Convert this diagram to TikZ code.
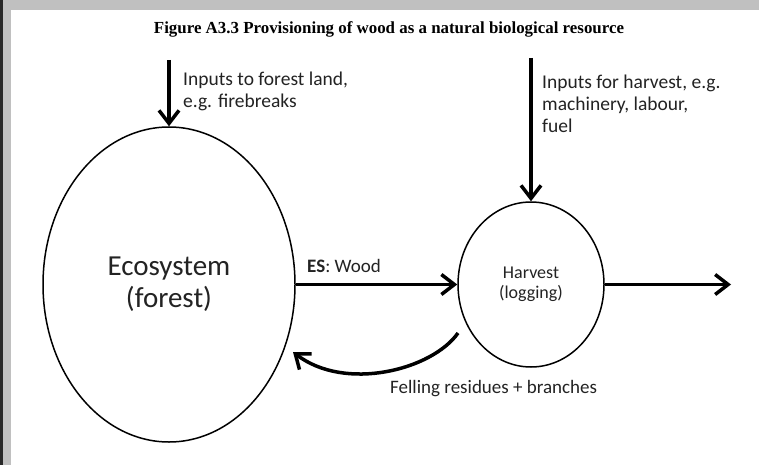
\documentclass[tikz,border=0pt]{standalone}
\usepackage{fontspec}
\setmainfont{Carlito}
\newfontfamily\titlefont{Liberation Serif}
\usetikzlibrary{arrows.meta,shapes.geometric}
\definecolor{framegray}{RGB}{192,192,192}
\definecolor{frameedge}{RGB}{40,40,40}
\definecolor{inktext}{RGB}{35,35,35}
\tikzset{
  pool/.style={ellipse, draw=black, line width=1.5pt, inner sep=0pt, align=center, text=inktext},
  flow/.style={line width=3.5pt, -{Straight Barb[length=13pt,width=20pt]}},
  note/.style={anchor=base west, align=left, text=inktext, inner sep=0pt,
               font=\fontsize{19.5}{22}\selectfont},
}
\begin{document}
\begin{tikzpicture}[x=1pt,y=-1pt]
\useasboundingbox (0,0) rectangle (759,465);
% page frame
\fill[white] (0,0) rectangle (759,465);
\fill[framegray] (0,0) rectangle (759,10);
\fill[framegray] (0,0) rectangle (11,465);
\fill[frameedge] (0,0) rectangle (2.5,465);

% caption
\node[anchor=base, inner sep=0pt, font=\titlefont\bfseries\fontsize{16.9}{19}\selectfont] (title) at (389,34)
  {Figure A3.3 Provisioning of wood as a natural biological resource};

% stocks and processes
\node[pool, minimum width=252pt, minimum height=315pt, font=\fontsize{29}{32}\selectfont]
  (eco) at (169,284.5) {\raisebox{-2pt}{Ecosystem}\\\raisebox{-2pt}{(forest)}};
\node[pool, minimum width=146pt, minimum height=165pt, font=\fontsize{18}{22}\selectfont]
  (harvest) at (531,284.5) {\raisebox{-1.5pt}{Harvest}\\(logging)};

% free ends of the flows
\coordinate (inForest) at (169,60);
\coordinate (inHarvest) at (531,58);
\coordinate (outWood) at (731,284.5);
\coordinate (resStart) at (458,333);
\coordinate (resEnd) at (293,352);

% flows
\draw[flow] (inForest) -- (eco.north);
\draw[flow] (inHarvest) -- (harvest.north);
\draw[flow] (eco.east) -- (harvest.west);
\draw[flow] (harvest.east) -- (outWood);
\draw[flow] (resStart) .. controls (432,370) and (345,392) .. (resEnd);

% labels (base anchor sits on the last line)
\node[note] (inForestText) at (183,108) {Inputs to forest land,\\e.g. firebreaks};
\node[note] (inHarvestText) at (542,133) {Inputs for harvest, e.g.\\machinery, labour,\\fuel};
\node[note, font=\fontsize{19}{22}\selectfont] (esText) at (307,272) {\textbf{ES}: Wood};
\node[note, font=\fontsize{19}{22}\selectfont] (resText) at (390,393) {Felling residues + branches};
\end{tikzpicture}
\end{document}
